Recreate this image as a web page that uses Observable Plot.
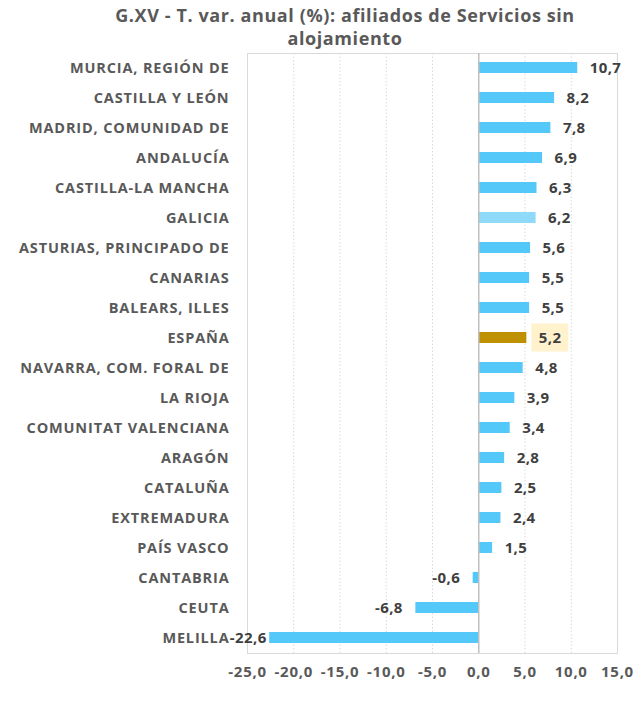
<!DOCTYPE html>
<html>
<head>
<meta charset="utf-8">
<script src="https://cdn.jsdelivr.net/npm/d3@7"></script>
<script src="https://cdn.jsdelivr.net/npm/@observablehq/plot@0.6"></script>
<style>
  body { margin: 0; background: #fff; }
  #wrap { position: relative; width: 635px; height: 707px; font-family: "Open Sans", sans-serif; }
  #title { position: absolute; left: 0; top: 4px; width: 635px; box-sizing: border-box; padding-left: 55px;
           text-align: center; font-weight: bold; font-size: 18px; letter-spacing: 0.6px; line-height: 23px; color: #595959; }
  svg { display: block; }
  g[aria-label="y-axis tick label"] text { letter-spacing: 0.85px; }
  g[aria-label="x-axis tick label"] text { letter-spacing: 0.7px; }
  g[aria-label="text"] text { letter-spacing: 0.4px; }
</style>
</head>
<body>
<div id="wrap">
  <div id="chart"></div>
  <div id="title">G.XV - T. var. anual (%): afiliados de Servicios sin<br>alojamiento</div>
</div>
<script>
const regions = ["MURCIA, REGIÓN DE","CASTILLA Y LEÓN","MADRID, COMUNIDAD DE","ANDALUCÍA","CASTILLA-LA MANCHA","GALICIA","ASTURIAS, PRINCIPADO DE","CANARIAS","BALEARS, ILLES","ESPAÑA","NAVARRA, COM. FORAL DE","LA RIOJA","COMUNITAT VALENCIANA","ARAGÓN","CATALUÑA","EXTREMADURA","PAÍS VASCO","CANTABRIA","CEUTA","MELILLA"];
const values = [10.7,8.2,7.8,6.9,6.3,6.2,5.6,5.5,5.5,5.2,4.8,3.9,3.4,2.8,2.5,2.4,1.5,-0.6,-6.8,-22.6];
const xTicks = [-25,-20,-15,-10,-5,0,5,10,15];

const data = regions.map((r, i) => ({region: r, value: values[i]}));
const fmt = v => v.toFixed(1).replace(".", ",");
const colorOf = r => r === "ESPAÑA" ? "#BF9000" : r === "GALICIA" ? "#8FD9F9" : "#55C8FA";

const chart = Plot.plot({
  width: 635,
  height: 707,
  marginTop: 53,
  marginBottom: 54,
  marginLeft: 247,
  marginRight: 18,
  style: {fontFamily: "'Open Sans', sans-serif", background: "#fff"},
  x: {domain: [-25, 15], ticks: xTicks},
  y: {domain: regions, paddingInner: 0.63, paddingOuter: 0.315},
  marks: [
    Plot.gridX(xTicks.filter(t => t !== 0 && t !== -25 && t !== 15), {stroke: "#D9D9D9", strokeOpacity: 1, strokeDasharray: "1.5,2"}),
    Plot.frame({stroke: "#D9D9D9"}),
    Plot.barX(data, {y: "region", x: "value", fill: d => colorOf(d.region)}),
    Plot.ruleX([0], {stroke: "#BFBFBF", strokeWidth: 1.5}),
    Plot.barX(data.filter(d => d.region === "ESPAÑA"), {y: "region", x1: "value", x2: "value", fill: "#FFF2CC", insetLeft: 5, insetRight: -42, insetTop: -8.5, insetBottom: -8.5}),
    Plot.text(data.filter(d => d.value >= 0), {y: "region", x: "value", text: d => fmt(d.value), textAnchor: "start", dx: 12, fontSize: 15, fontWeight: "bold", fill: "#404040"}),
    Plot.text(data.filter(d => d.value < 0 && d.value > -20), {y: "region", x: "value", text: d => fmt(d.value), textAnchor: "end", dx: -13, fontSize: 15, fontWeight: "bold", fill: "#404040"}),
    Plot.text(data.filter(d => d.value <= -20), {y: "region", x: "value", text: d => fmt(d.value), textAnchor: "end", dx: -3, fontSize: 15, fontWeight: "bold", fill: "#404040"}),
    Plot.axisY({tickSize: 0, tickPadding: 18, fontSize: 14.5, fontWeight: "bold", color: "#595959", label: null}),
    Plot.axisX(xTicks, {tickSize: 0, tickPadding: 13, fontSize: 15, fontWeight: "bold", color: "#595959", tickFormat: fmt, label: null})
  ]
});
document.getElementById("chart").appendChild(chart);
</script>
</body>
</html>
